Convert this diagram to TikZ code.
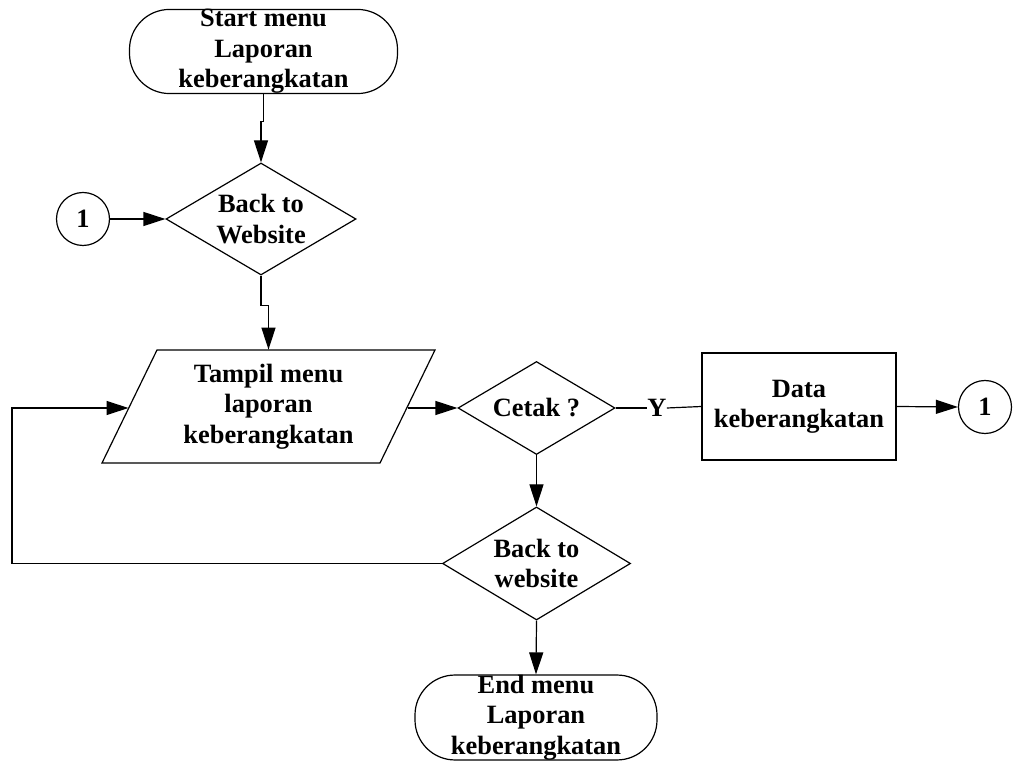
\documentclass[tikz,border=0pt]{standalone}
\usepackage{fontspec}
\setmainfont{Liberation Serif}
\usetikzlibrary{shapes.geometric,arrows.meta,calc}
\begin{document}
\begin{tikzpicture}[x=0.5pt,y=-0.5pt,
  every node/.style={font=\fontsize{13.2}{15.2}\selectfont\bfseries, align=center, inner sep=0pt},
  line/.style={draw=black, line width=0.6pt},
  arr/.style={line, -{Triangle[length=11pt,width=7pt]}},
  term/.style={line, rectangle, rounded corners=20pt},
  dia/.style={line, diamond, inner sep=0pt},
  proc/.style={line, rectangle},
  conn/.style={line, circle, minimum size=26.5pt},
  lbl/.style={align=center, font=\fontsize{13.2}{15.2}\selectfont\bfseries}]
\useasboundingbox (0,0) rectangle (1013,764);

% nodes
\node[term, minimum width=134pt, minimum height=41.5pt] (start) at (263.5,51.5) {Start menu\\Laporan\\keberangkatan};
\node[dia, minimum width=95pt, minimum height=56pt, label={[lbl]center:Back to\\Website}] (d1) at (261,219) {};
\node[conn] (c1) at (83,219) {1};

\draw[line] (157,350) -- (435,350) -- (380,463) -- (102,463) -- cycle;
\node[minimum width=139pt, minimum height=56.5pt] (par) at (268.5,406.5) {Tampil menu\\laporan\\keberangkatan};
\coordinate (parL) at (128.5,408);
\coordinate (parR) at (407.5,408);

\node[dia, minimum width=78.5pt, minimum height=46.5pt, label={[lbl]center:Cetak ?}] (cetak) at (536.5,408) {};
\node (Y) at (657,408) {Y};
\node[proc, minimum width=97pt, minimum height=53.5pt] (data) at (799,406.5) {Data\\keberangkatan};
\node[conn] (c2) at (985,407) {1};

\node[dia, minimum width=94pt, minimum height=56.5pt, label={[lbl]center:Back to\\website}] (d2) at (536.5,563.5) {};
\node[term, minimum width=121pt, minimum height=40.5pt] (end) at (536,717.5) {End menu\\Laporan\\keberangkatan};

\coordinate (loop) at (12,485);

% connectors
\draw[arr] (start.south) -- ++(0,27) -| (d1.north);
\draw[arr] (c1) -- (d1.west);
\draw[arr] (d1.south) -- ++(0,30) -| (par.north);
\draw[arr] (parR) -- (cetak.west);
\draw[line] (cetak.east) -- (Y.west);
\draw[line] (Y.east) -- (data.west);
\draw[arr] (data.east) -- (c2.west);
\draw[arr] (cetak.south) -- (d2.north);
\draw[arr] (d2.west) -| (loop) |- (parL);
\draw[arr] (d2.south) -- (end.north);
\end{tikzpicture}
\end{document}
